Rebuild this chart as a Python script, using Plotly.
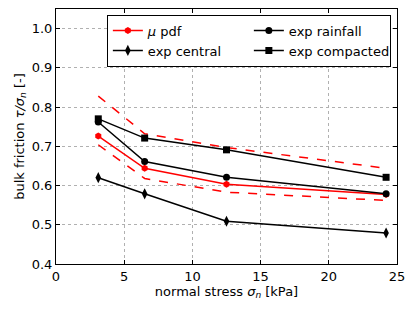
import plotly.graph_objects as go

stress = [3.1, 6.5, 12.5, 24.2]
mu_pdf = [0.726, 0.644, 0.603, 0.577]
mu_upper = [0.828, 0.732, 0.697, 0.644]
mu_lower = [0.704, 0.618, 0.583, 0.562]
exp_rainfall = [0.762, 0.661, 0.621, 0.579]
exp_central = [0.620, 0.579, 0.509, 0.479]
exp_compacted = [0.770, 0.721, 0.691, 0.621]

x_ticks = [0, 5, 10, 15, 20, 25]
y_ticks = [0.4, 0.5, 0.6, 0.7, 0.8, 0.9, 1.0]

FONT = "DejaVu Sans"
fig = go.Figure()

fig.add_trace(go.Scatter(x=stress, y=mu_upper, mode="lines", showlegend=False,
                         line=dict(color="red", width=1.5, dash="dash")))
fig.add_trace(go.Scatter(x=stress, y=mu_lower, mode="lines", showlegend=False,
                         line=dict(color="red", width=1.5, dash="dash")))
fig.add_trace(go.Scatter(x=stress, y=mu_pdf, mode="lines+markers", name="<i>μ</i> pdf",
                         line=dict(color="red", width=1.5),
                         marker=dict(symbol="hexagon", size=7, color="red")))
fig.add_trace(go.Scatter(x=stress, y=exp_rainfall, mode="lines+markers", name="exp rainfall",
                         line=dict(color="black", width=1.5),
                         marker=dict(symbol="circle", size=7, color="black")))
fig.add_trace(go.Scatter(x=stress, y=exp_central, mode="lines+markers", name="exp central",
                         line=dict(color="black", width=1.5),
                         marker=dict(symbol="diamond-tall", size=8, color="black")))
fig.add_trace(go.Scatter(x=stress, y=exp_compacted, mode="lines+markers", name="exp compacted",
                         line=dict(color="black", width=1.5),
                         marker=dict(symbol="square", size=7, color="black")))

axis_common = dict(showline=True, linecolor="black", linewidth=1, mirror="ticks",
                   ticks="inside", ticklen=4, tickcolor="black", automargin=False,
                   showgrid=True, gridcolor="#b0b0b0", griddash="dot", gridwidth=1,
                   zeroline=False, tickfont=dict(family=FONT, size=13, color="black"))

fig.update_layout(
    width=415, height=313,
    margin=dict(l=56, r=18, t=9, b=49),
    paper_bgcolor="white", plot_bgcolor="white",
    font=dict(family=FONT, size=12, color="black"),
    xaxis=dict(range=[0, 25], tickvals=x_ticks, ticktext=[str(v) for v in x_ticks],
               title=dict(text="normal stress <i>σ<sub>n</sub></i> [kPa]", standoff=2,
                          font=dict(family=FONT, size=13)),
               **axis_common),
    yaxis=dict(range=[0.4, 1.05], tickvals=y_ticks, ticktext=[f"{v:.1f}" for v in y_ticks],
               title=dict(text="bulk friction <i>τ/σ<sub>n</sub></i> [-]", standoff=4,
                          font=dict(family=FONT, size=13)),
               **axis_common),
    legend=dict(orientation="h", x=0.982, y=0.978, xanchor="right", yanchor="top",
                bgcolor="white", bordercolor="black", borderwidth=1,
                entrywidth=96, font=dict(family=FONT, size=13),
                itemwidth=30, tracegroupgap=0),
)

fig.write_html("out.html", config={"displayModeBar": False},
               post_script="document.body.style.margin='0';document.body.style.padding='0';")
